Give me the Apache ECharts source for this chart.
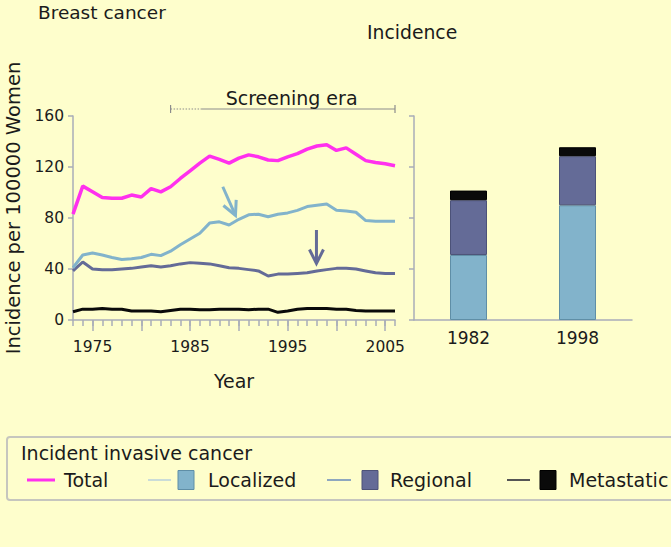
<!DOCTYPE html>
<html>
<head>
<meta charset="utf-8">
<script src="https://cdn.jsdelivr.net/npm/echarts@6/dist/echarts.min.js"></script>
<style>
html,body{margin:0;padding:0;background:#fefecc;}
#chart{width:671px;height:547px;}
</style>
</head>
<body>
<div id="chart"></div>
<script>
// ---- data ----
const years = [1973,1974,1975,1976,1977,1978,1979,1980,1981,1982,1983,1984,1985,1986,1987,1988,1989,
               1990,1991,1992,1993,1994,1995,1996,1997,1998,1999,2000,2001,2002,2003,2004,2005,2006];
const totalRate = [83,105,100.5,96,95.5,95.5,98,96.5,103,100.5,104.5,111,117,123,128.5,126,123,
                   127,129.5,128,125.5,125,128,130.5,134,136.5,137.5,133,135,130,125,123.5,122.5,121];
const localizedRate = [41,51,52.5,51,49,47.5,48,49,51.5,50.5,54,59,63.5,68,76,77,74.5,
                       79,82.5,83,81,83,84,86,89,90,91,86,85.5,84.5,78,77.5,77.5,77.5];
const regionalRate = [38.5,45.5,40,39.5,39.5,40,40.5,41.5,42.5,41.5,42.5,44,45,44.5,44,42.5,41,
                      40.5,39.5,38.5,34.5,36,36,36.5,37,38.5,39.5,40.5,40.5,40,38.5,37,36.5,36.5];
const metastaticRate = [6.5,8.5,8.5,9,8.5,8.5,7,7,7,6.5,7.5,8.5,8.5,8,8,8.5,8.5,
                        8.5,8,8.5,8.5,6,7,8.5,9,9,9,8.5,8.5,7.5,7,7,7,7];
const barYears = ['1982','1998'];
const barLocalized = [51,90];
const barRegional = [43,38.5];
const barMetastatic = [7.5,7];
const yTicks = [0,40,80,120,160];
const xLabelYears = [1975,1985,1995,2005];
const xMajorTickYears = [1975,1980,1985,1990,1995,2000,2005];
const seriesNames = ['Total','Localized','Regional','Metastatic'];
const screeningEra = [1983,2006];
const arrowLocalized = [[1988.35,104.5],[1989.65,82]];
const arrowRegional = [[1997.95,70.6],[1997.95,44.3]];

// ---- styles ----
const FONT = 'DejaVu Sans';
const TXT = '#1b1b1b';
const AX = '#a9acb9';
const C_TOTAL = '#ff30ee';
const C_LOC = '#82b3cb';
const C_REG = '#646b97';
const C_MET = '#0a0a0a';

const pair = arr => years.map((y,i)=>[y,arr[i]]);

const chart = echarts.init(document.getElementById('chart'), null, {renderer:'svg'});

const axisLine = {show:true, lineStyle:{color:AX, width:1.5}};
const option = {
  backgroundColor:'#fefecc',
  animation:false,
  textStyle:{fontFamily:FONT},
  title:[
    {text:'Breast cancer', left:38, top:3, padding:0,
     textStyle:{fontFamily:FONT, fontSize:18.5, fontWeight:'normal', color:TXT}},
    {text:'Incidence', left:367, top:23, padding:0,
     textStyle:{fontFamily:FONT, fontSize:18.8, fontWeight:'normal', color:TXT}}
  ],
  grid:[
    {left:73, top:116, width:322, height:204, outerBoundsMode:'none', containLabel:false},
    {left:414, top:116, width:218, height:204, outerBoundsMode:'none', containLabel:false}
  ],
  xAxis:[
    {type:'value', gridIndex:0, position:'bottom', min:years[0], max:years[years.length-1],
     axisLine:axisLine, splitLine:{show:false},
     axisTick:{show:true, customValues:years, length:6, lineStyle:{color:AX, width:1.5}},
     axisLabel:{customValues:xLabelYears, fontSize:15.5, color:TXT, margin:19, fontFamily:FONT,
                formatter:v=>String(v)},
     name:'Year', nameLocation:'middle', nameGap:51,
     nameTextStyle:{fontSize:19, color:TXT, fontFamily:FONT}},
    {type:'category', gridIndex:1, position:'bottom', data:barYears,
     axisLine:axisLine, axisTick:{show:false},
     axisLabel:{fontSize:17, color:TXT, margin:9, fontFamily:FONT}},
    {type:'value', gridIndex:0, position:'bottom', offset:0, min:years[0], max:years[years.length-1],
     axisLine:{show:false}, splitLine:{show:false}, axisLabel:{show:false},
     axisTick:{show:true, customValues:xMajorTickYears, length:11, lineStyle:{color:AX, width:1.5}}}
  ],
  yAxis:[
    {type:'value', gridIndex:0, min:yTicks[0], max:yTicks[yTicks.length-1], interval:40,
     axisLine:axisLine, splitLine:{show:false},
     axisTick:{show:true, length:5, lineStyle:{color:AX, width:1.5}},
     axisLabel:{fontSize:15.5, color:TXT, margin:9, fontFamily:FONT},
     name:'Incidence per 100000 Women', nameLocation:'middle', nameRotate:90, nameGap:50,
     nameTextStyle:{fontSize:19.5, color:TXT, fontFamily:FONT, padding:[0,0,0,20]}},
    {type:'value', gridIndex:1, min:yTicks[0], max:yTicks[yTicks.length-1], interval:40,
     axisLine:axisLine, splitLine:{show:false},
     axisTick:{show:true, length:5, lineStyle:{color:AX, width:1.5}},
     axisLabel:{show:false}}
  ],
  series:[
    {name:seriesNames[3], type:'line', xAxisIndex:0, yAxisIndex:0, data:pair(metastaticRate),
     showSymbol:false, lineStyle:{color:C_MET, width:3}},
    {name:seriesNames[2], type:'line', xAxisIndex:0, yAxisIndex:0, data:pair(regionalRate),
     showSymbol:false, lineStyle:{color:C_REG, width:3}},
    {name:seriesNames[1], type:'line', xAxisIndex:0, yAxisIndex:0, data:pair(localizedRate),
     showSymbol:false, lineStyle:{color:C_LOC, width:3}},
    {name:seriesNames[0], type:'line', xAxisIndex:0, yAxisIndex:0, data:pair(totalRate),
     showSymbol:false, lineStyle:{color:C_TOTAL, width:3.5}},
    {name:seriesNames[1]+' (bar)', type:'bar', xAxisIndex:1, yAxisIndex:1, stack:'s', data:barLocalized,
     barWidth:37, itemStyle:{color:C_LOC, borderColor:'#5f8ea6', borderWidth:1}},
    {name:seriesNames[2]+' (bar)', type:'bar', xAxisIndex:1, yAxisIndex:1, stack:'s', data:barRegional,
     barWidth:37, itemStyle:{color:C_REG, borderColor:'#4c5278', borderWidth:1}},
    {name:seriesNames[3]+' (bar)', type:'bar', xAxisIndex:1, yAxisIndex:1, stack:'s', data:barMetastatic,
     barWidth:37, itemStyle:{color:C_MET, borderColor:'#000', borderWidth:1}}
  ]
};
chart.setOption(option);

// ---- annotations positioned through the chart's own scales ----
const P = (x,y) => chart.convertToPixel({seriesIndex:3}, [x,y]);
const g = [];
function arrow(a, b, color, w){
  const p0 = P(a[0],a[1]), p1 = P(b[0],b[1]);
  const dx = p1[0]-p0[0], dy = p1[1]-p0[1], L = Math.hypot(dx,dy);
  const ux = dx/L, uy = dy/L, nx = -uy, ny = ux, hl = 14, hw = 7;
  g.push({type:'line', shape:{x1:p0[0],y1:p0[1],x2:p1[0],y2:p1[1]}, style:{stroke:color, lineWidth:w}, silent:true});
  g.push({type:'polyline', shape:{points:[
      [p1[0]-ux*hl+nx*hw, p1[1]-uy*hl+ny*hw], [p1[0],p1[1]], [p1[0]-ux*hl-nx*hw, p1[1]-uy*hl-ny*hw]]},
      style:{stroke:color, lineWidth:w, fill:null}, silent:true});
}
arrow(arrowLocalized[0], arrowLocalized[1], C_LOC, 3);
arrow(arrowRegional[0], arrowRegional[1], C_REG, 3);

// screening era bracket
const sy = 165.5;
const s0 = P(screeningEra[0], sy), sDot = P(screeningEra[0]+3.2, sy), s1 = P(screeningEra[1], sy);
g.push({type:'line', shape:{x1:s0[0],y1:s0[1],x2:sDot[0],y2:sDot[1]}, style:{stroke:'#8c8c8c', lineWidth:1.2, lineDash:[1.5,1.5]}, silent:true});
g.push({type:'line', shape:{x1:sDot[0],y1:sDot[1],x2:s1[0],y2:s1[1]}, style:{stroke:'#8c8c8c', lineWidth:1.2}, silent:true});
g.push({type:'line', shape:{x1:s0[0],y1:s0[1]-4,x2:s0[0],y2:s0[1]+4}, style:{stroke:'#8c8c8c', lineWidth:1.2}, silent:true});
g.push({type:'line', shape:{x1:s1[0],y1:s1[1]-4,x2:s1[0],y2:s1[1]+4}, style:{stroke:'#8c8c8c', lineWidth:1.2}, silent:true});
const st = P(1995.4, 174);
g.push({type:'text', x:st[0], y:st[1], style:{text:'Screening era', fontFamily:FONT, fontSize:19, fill:TXT, align:'center', verticalAlign:'middle'}, silent:true});

// legend box
g.push({type:'rect', shape:{x:7, y:437, width:690, height:63, r:3}, style:{fill:'none', stroke:'#c6c6be', lineWidth:2}, silent:true});
g.push({type:'text', x:21, y:453, style:{text:'Incident invasive cancer', fontFamily:FONT, fontSize:19, fill:TXT, verticalAlign:'middle'}, silent:true});
const legendItems = [
  {name:seriesNames[0], lx:[27,55], lc:C_TOTAL, lw:3, sq:null, tx:64},
  {name:seriesNames[1], lx:[148,171], lc:'#b8d0dc', lw:1.5, sq:[178,C_LOC,'#5f8ea6'], tx:208},
  {name:seriesNames[2], lx:[327,351], lc:'#8ea7bf', lw:2, sq:[362,C_REG,'#4c5278'], tx:390},
  {name:seriesNames[3], lx:[507,530], lc:'#555555', lw:2, sq:[540,C_MET,'#000'], tx:569}
];
const ly = 480;
legendItems.forEach(it=>{
  g.push({type:'line', shape:{x1:it.lx[0],y1:ly,x2:it.lx[1],y2:ly}, style:{stroke:it.lc, lineWidth:it.lw}, silent:true});
  if(it.sq){
    g.push({type:'rect', shape:{x:it.sq[0], y:ly-9.5, width:16, height:19}, style:{fill:it.sq[1], stroke:it.sq[2], lineWidth:1}, silent:true});
  }
  g.push({type:'text', x:it.tx, y:ly, style:{text:it.name, fontFamily:FONT, fontSize:19, fill:TXT, verticalAlign:'middle'}, silent:true});
});
chart.setOption({graphic:g});
</script>
</body>
</html>
